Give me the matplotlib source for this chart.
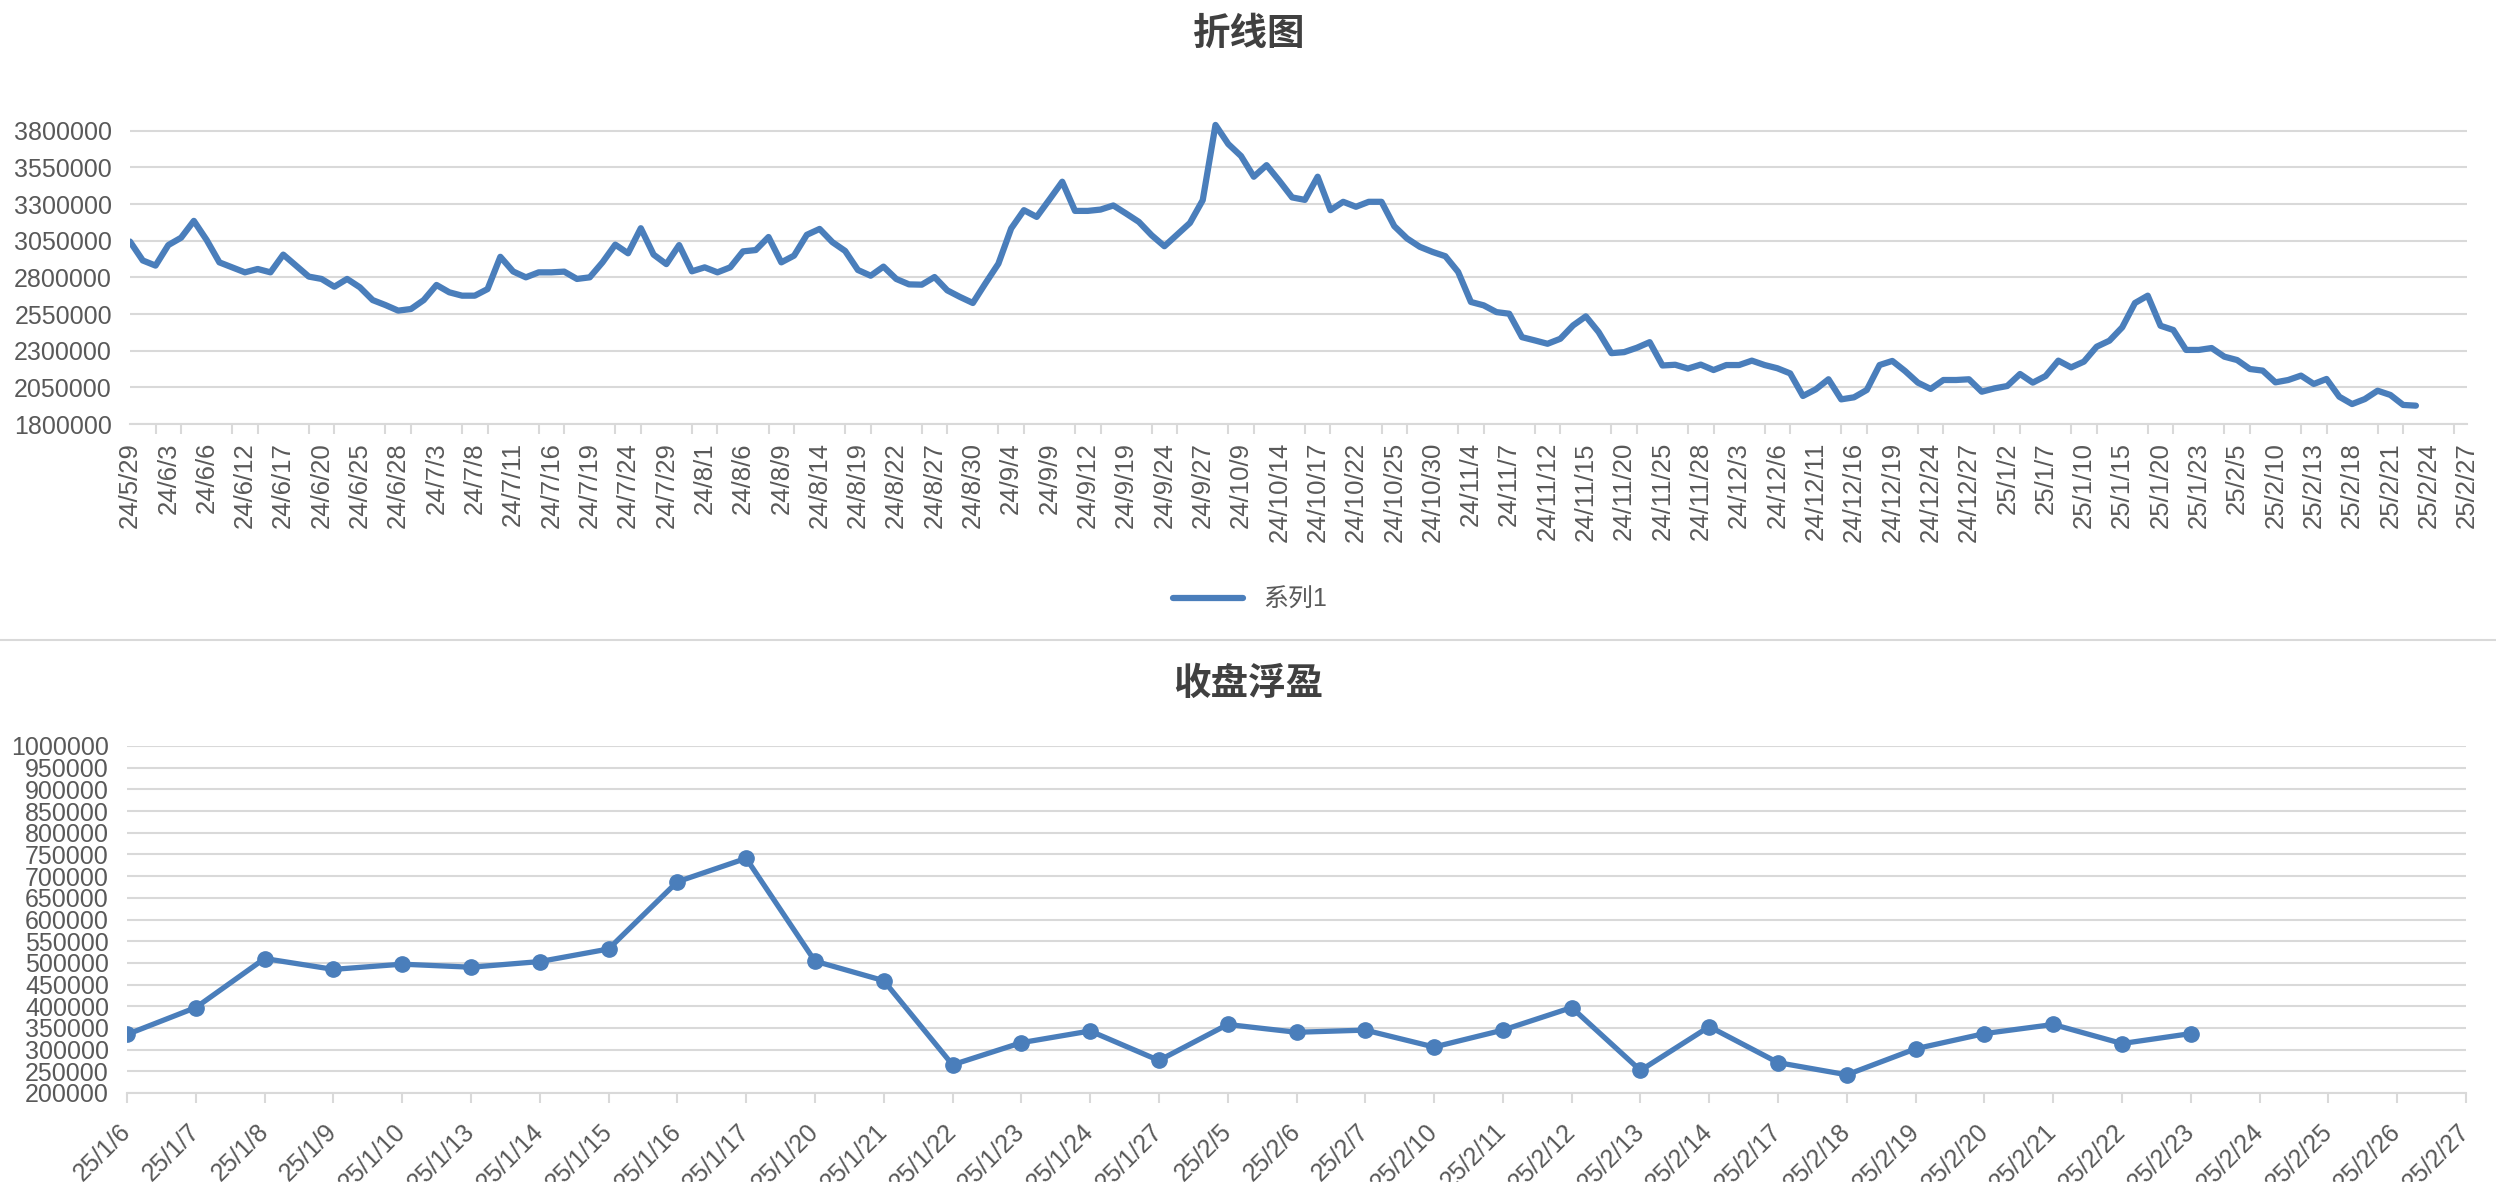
import matplotlib
matplotlib.use('Agg')
import matplotlib.pyplot as plt
from matplotlib.lines import Line2D

plt.rcParams['font.family'] = ['Liberation Sans', 'Noto Sans CJK SC', 'DejaVu Sans']

# top chart: trading days per month (year, month, days)
top_days = [
    (24, 5, [29, 30, 31]),
    (24, 6, [3, 4, 5, 6, 7, 11, 12, 13, 14, 17, 18, 19, 20, 21, 24, 25, 26, 27, 28]),
    (24, 7, [1, 2, 3, 4, 5, 8, 9, 10, 11, 12, 15, 16, 17, 18, 19, 22, 23, 24, 25, 26, 29, 30, 31]),
    (24, 8, [1, 2, 5, 6, 7, 8, 9, 12, 13, 14, 15, 16, 19, 20, 21, 22, 23, 26, 27, 28, 29, 30]),
    (24, 9, [2, 3, 4, 5, 6, 9, 10, 11, 12, 13, 18, 19, 20, 23, 24, 25, 26, 27, 30]),
    (24, 10, [8, 9, 10, 11, 14, 15, 16, 17, 18, 21, 22, 23, 24, 25, 28, 29, 30, 31]),
    (24, 11, [1, 4, 5, 6, 7, 8, 11, 12, 13, 14, 15, 18, 19, 20, 21, 22, 25, 26, 27, 28, 29]),
    (24, 12, [2, 3, 4, 5, 6, 9, 10, 11, 12, 13, 16, 17, 18, 19, 20, 23, 24, 25, 26, 27, 30, 31]),
    (25, 1, [2, 3, 6, 7, 8, 9, 10, 13, 14, 15, 16, 17, 20, 21, 22, 23, 24, 27]),
    (25, 2, [5, 6, 7, 10, 11, 12, 13, 14, 17, 18, 19, 20, 21, 22, 23, 24, 25, 26, 27]),
]
top_dates = [f'{y}/{m}/{d}' for y, m, days in top_days for d in days]

top_values = [
    3044000, 2915000, 2880000, 3020000, 3070000, 3185000, 3055000, 2902000, 2868000, 2834000,
    2857000, 2834000, 2955000, 2880000, 2805000, 2789000, 2736000, 2789000, 2732000, 2645000,
    2611000, 2573000, 2584000, 2645000, 2748000, 2698000, 2675000, 2675000, 2720000, 2940000,
    2840000, 2800000, 2834000, 2834000, 2839000, 2789000, 2800000, 2902000, 3023000, 2964000,
    3135000, 2955000, 2890000, 3020000, 2841000, 2868000, 2834000, 2868000, 2977000, 2986000,
    3075000, 2902000, 2948000, 3090000, 3130000, 3040000, 2980000, 2850000, 2811000, 2873000,
    2789000, 2752000, 2750000, 2802000, 2711000, 2666000, 2625000, 2761000, 2893000, 3133000,
    3258000, 3212000, 3331000, 3452000, 3253000, 3253000, 3262000, 3290000, 3235000, 3178000,
    3087000, 3012000, 3092000, 3171000, 3326000, 3839000, 3709000, 3627000, 3486000, 3565000,
    3458000, 3345000, 3328000, 3486000, 3258000, 3315000, 3281000, 3315000, 3315000, 3149000,
    3065000, 3008000, 2973000, 2944000, 2837000, 2632000, 2609000, 2563000, 2552000, 2392000,
    2370000, 2347000, 2381000, 2472000, 2534000, 2427000, 2283000, 2290000, 2320000, 2358000,
    2199000, 2204000, 2178000, 2205000, 2168000, 2202000, 2202000, 2232000, 2202000, 2180000,
    2145000, 1991000, 2036000, 2105000, 1968000, 1982000, 2032000, 2202000, 2230000, 2161000,
    2082000, 2039000, 2100000, 2100000, 2105000, 2020000, 2043000, 2059000, 2141000, 2082000,
    2127000, 2232000, 2186000, 2225000, 2327000, 2368000, 2459000, 2625000, 2675000, 2470000,
    2441000, 2305000, 2305000, 2318000, 2259000, 2236000, 2175000, 2164000, 2084000, 2100000,
    2130000, 2073000, 2107000, 1986000, 1936000, 1970000, 2027000, 1998000, 1930000, 1925000,
]

# bottom chart
bot_dates = ['25/1/6', '25/1/7', '25/1/8', '25/1/9', '25/1/10', '25/1/13', '25/1/14', '25/1/15',
             '25/1/16', '25/1/17', '25/1/20', '25/1/21', '25/1/22', '25/1/23', '25/1/24', '25/1/27',
             '25/2/5', '25/2/6', '25/2/7', '25/2/10', '25/2/11', '25/2/12', '25/2/13', '25/2/14',
             '25/2/17', '25/2/18', '25/2/19', '25/2/20', '25/2/21', '25/2/22', '25/2/23', '25/2/24',
             '25/2/25', '25/2/26', '25/2/27']
bot_values = [335000, 397000, 510000, 485000, 497000, 490000, 503000, 532000, 687000, 741000,
              504000, 459000, 265000, 316000, 343000, 275000, 358000, 340000, 345000, 306000,
              345000, 397000, 252000, 353000, 270000, 242000, 302000, 337000, 358000, 314000,
              337000]

W, H = 2496, 1182
blue = '#4A7EBB'
grid_c = '#D9D9D9'
txt_c = '#595959'
title_c = '#404040'

fig = plt.figure(figsize=(W / 100, H / 100), dpi=100)

# ---- top chart ----
ax1 = fig.add_axes([130 / W, 1 - 424 / H, (2467 - 130) / W, (424 - 116) / H])
line1, = ax1.plot(range(len(top_values)), top_values, color=blue, lw=4.5,
                  solid_joinstyle='round', solid_capstyle='round')
ax1.set_xlim(0, len(top_dates) - 1)
ax1.set_ylim(1800000, 3900000)
yt = list(range(1800000, 3800001, 250000))
ax1.set_yticks(yt)
ax1.set_yticklabels([str(v) for v in yt])
ax1.set_xticks(range(0, len(top_dates), 3))
ax1.set_xticklabels(top_dates[::3], rotation=90)
ax1.set_xticks(range(0, len(top_dates), 2), minor=True)
ax1.tick_params(axis='x', which='major', length=0, pad=13, labelsize=18.5, labelcolor=txt_c)
ax1.tick_params(axis='x', which='minor', length=7, width=1.5, color=grid_c)
ax1.tick_params(axis='y', length=0, pad=13, labelsize=18, labelcolor=txt_c)
ax1.yaxis.grid(True, color=grid_c, lw=1.5)
ax1.set_axisbelow(True)
for s in ['top', 'right', 'left']:
    ax1.spines[s].set_visible(False)
ax1.spines['bottom'].set_color(grid_c)
ax1.spines['bottom'].set_linewidth(1.5)

fig.text(0.5, 1 - 35 / H, '折线图', ha='center', va='center', fontsize=27,
         fontweight='bold', color=title_c)
fig.legend([line1], ['系列1'], loc='center', bbox_to_anchor=(1250 / W, 1 - 600 / H),
           frameon=False, fontsize=18, handlelength=2.8, labelcolor=txt_c)

fig.add_artist(Line2D([0, 1], [1 - 640 / H, 1 - 640 / H], color=grid_c, lw=1.5))

# ---- bottom chart ----
ax2 = fig.add_axes([127 / W, 1 - 1093 / H, (2466 - 127) / W, (1093 - 746) / H])
ax2.plot(range(len(bot_values)), bot_values, color=blue, lw=3.8, marker='o', ms=11)
ax2.set_xlim(0, len(bot_dates) - 1)
ax2.set_ylim(200000, 1000000)
yt2 = list(range(200000, 1000001, 50000))
ax2.set_yticks(yt2)
ax2.set_yticklabels([str(v) for v in yt2])
ax2.set_xticks(range(len(bot_dates)))
ax2.set_xticklabels(bot_dates, rotation=45, ha='right', va='center', rotation_mode='anchor')
ax2.tick_params(axis='x', length=7, width=1.5, color=grid_c, pad=18, labelsize=18,
                labelcolor=txt_c)
ax2.tick_params(axis='y', length=0, pad=13, labelsize=18, labelcolor=txt_c)
ax2.yaxis.grid(True, color=grid_c, lw=1.5)
ax2.set_axisbelow(True)
for s in ['top', 'right', 'left']:
    ax2.spines[s].set_visible(False)
ax2.spines['bottom'].set_color(grid_c)
ax2.spines['bottom'].set_linewidth(1.5)

fig.text(0.5, 1 - 685 / H, '收盘浮盈', ha='center', va='center', fontsize=27,
         fontweight='bold', color=title_c)

fig.savefig('out.png', dpi=100)
